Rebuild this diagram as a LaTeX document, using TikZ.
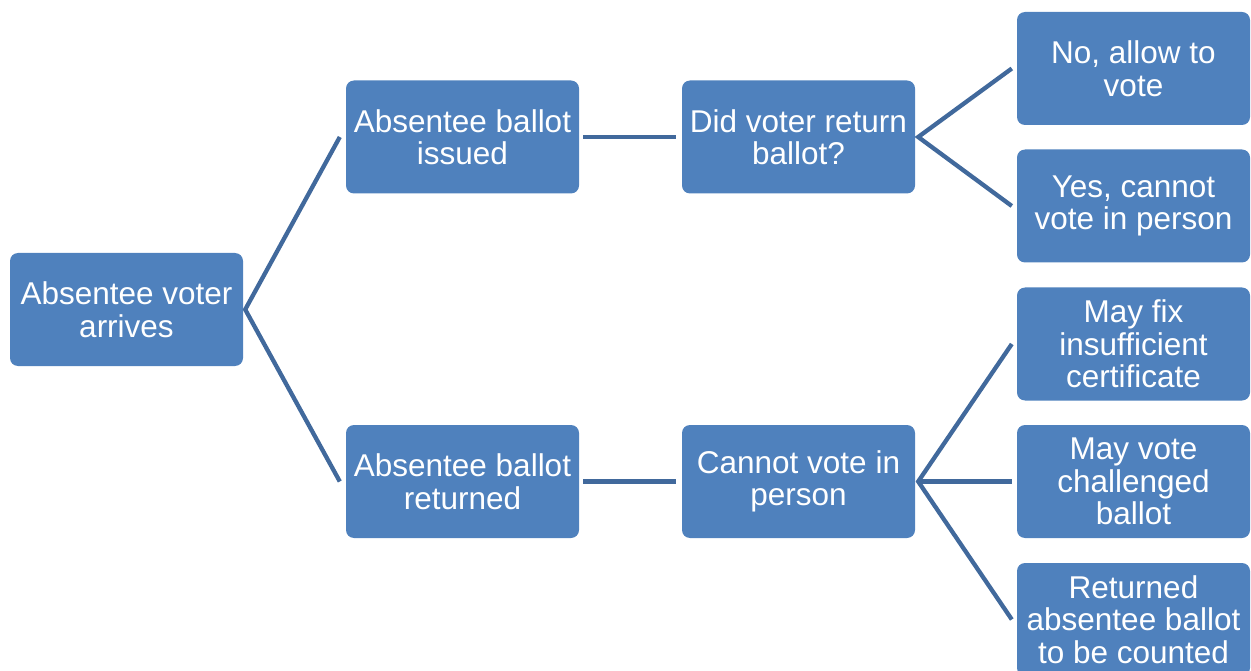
\documentclass[tikz,border=0pt]{standalone}
\usepackage{fontspec}
\setmainfont{Liberation Sans}
\definecolor{boxblue}{HTML}{4F81BD}
\definecolor{lineblue}{HTML}{41699C}
\begin{document}
\begin{tikzpicture}[x=1pt,y=-1pt,
  box/.style={fill=boxblue, rounded corners=8pt, text=white, minimum width=233pt,
    minimum height=113pt, align=center, inner sep=0pt,
    font=\fontsize{31.5}{32.5}\selectfont},
  conn/.style={draw=lineblue, line width=4.3pt, line join=miter}]
\useasboundingbox (0,0) rectangle (1251,671);
\clip (0,0) rectangle (1251,671);
\node[box] (root) at (126.5,309.5) {Absentee voter\\arrives};
\node[box] (issued) at (462.5,137) {Absentee ballot\\issued};
\node[box] (returned) at (462.5,481.5) {Absentee ballot\\returned};
\node[box] (didreturn) at (798.5,137) {Did voter return\\ballot?};
\node[box] (cannot) at (798.5,481.5) {Cannot vote in\\person};
\node[box] (no) at (1133.5,68.5) {No, allow to\\vote};
\node[box] (yes) at (1133.5,206) {Yes, cannot\\vote in person};
\node[box] (fix) at (1133.5,344) {May fix\\insufficient\\certificate};
\node[box] (challenged) at (1133.5,481.5) {May vote\\challenged\\ballot};
\node[box] (counted) at (1133.5,619.5) {Returned\\absentee ballot\\to be counted};
\draw[conn] ([xshift=-6pt]issued.west) -- ([xshift=2pt]root.east) -- ([xshift=-6pt]returned.west);
\draw[conn] ([xshift=4pt]issued.east) -- ([xshift=-6pt]didreturn.west);
\draw[conn] ([xshift=4pt]returned.east) -- ([xshift=-6pt]cannot.west);
\draw[conn] ([xshift=-5pt]no.west) -- ([xshift=3pt]didreturn.east) -- ([xshift=-5pt]yes.west);
\draw[conn] ([xshift=-5pt]fix.west) -- ([xshift=3pt]cannot.east) -- ([xshift=-5pt]counted.west);
\draw[conn] ([xshift=3pt]cannot.east) -- ([xshift=-5pt]challenged.west);
\end{tikzpicture}
\end{document}
